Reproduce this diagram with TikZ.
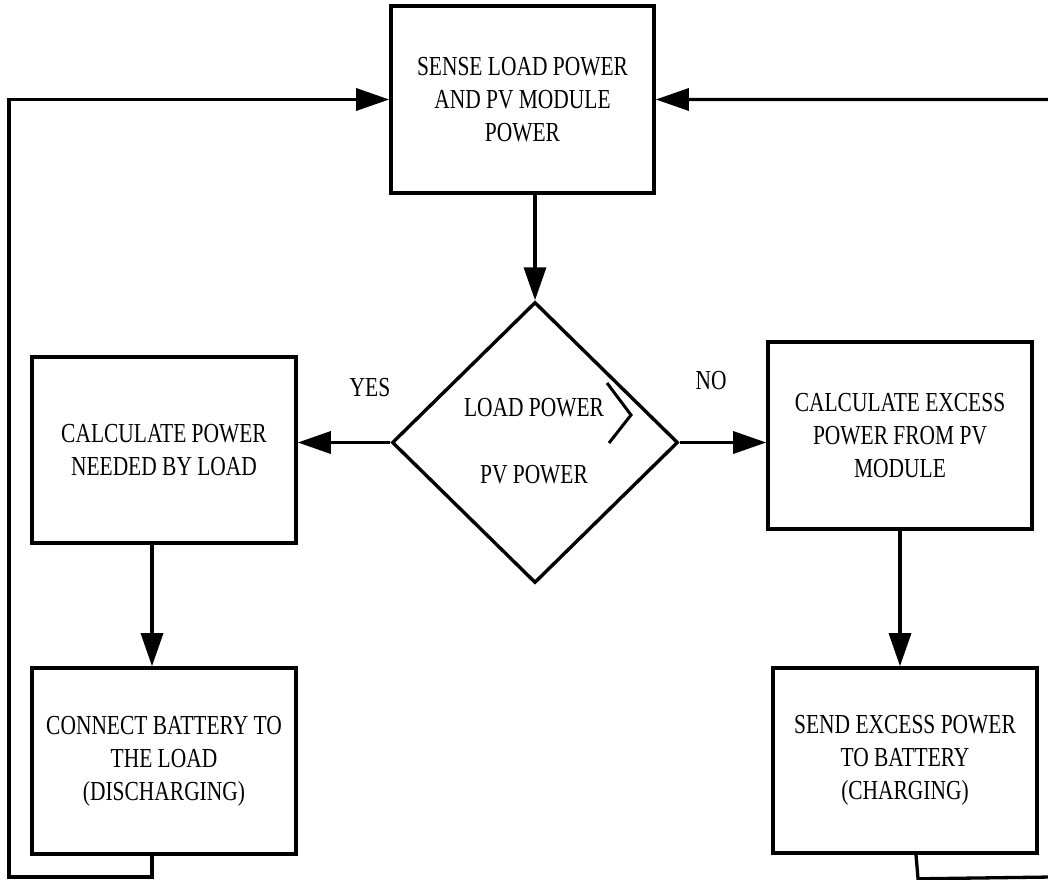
\documentclass[tikz,border=0pt]{standalone}
\usepackage{fontspec}
\setmainfont{Liberation Serif}[FakeStretch=0.78]
\usetikzlibrary{arrows.meta,shapes.geometric,calc}
\newcommand{\schrift}{\fontsize{27.5}{33}\selectfont}
\tikzset{kasten/.style={draw,line width=3.6pt,minimum width=264pt,minimum height=186pt,
    inner sep=0,align=center,font=\schrift},
  raute/.style={draw,shape=diamond,line width=3.4pt,minimum width=286pt,minimum height=281pt,inner sep=0},
  pfeil/.style={line width=3.3pt,-{Triangle[length=33pt,width=22pt]}},
  haken/.style={line width=3pt}}
\begin{document}
\begin{tikzpicture}[x=1pt,y=1pt]
\useasboundingbox (0,0) rectangle (1048,879);
\node[kasten,minimum width=263pt,minimum height=187pt] (sense) at (522.5,779.5) {SENSE LOAD POWER\\AND PV MODULE\\POWER};
\node[raute] (dia) at (535,436.5) {};
\node[font=\schrift,align=center,inner sep=0] (cmp) at (534,437.5) {LOAD POWER\\[34pt]PV POWER};
\draw[haken] ($(dia.center)+(72,59.5)$) -- ++(24,-32) -- ++(-22,-28);
\node[kasten] (calc) at (164,429) {CALCULATE POWER\\NEEDED BY LOAD};
\node[kasten,minimum height=187pt] (excess) at (900,443.5) {CALCULATE EXCESS\\POWER FROM PV\\MODULE};
\node[kasten] (conn) at (164,118) {CONNECT BATTERY TO\\THE LOAD\\(DISCHARGING)};
\node[kasten,minimum height=185pt] (send) at (905,118.5) {SEND EXCESS POWER\\TO BATTERY\\(CHARGING)};
\node[font=\schrift,inner sep=0] (ja) at (370,491) {YES};
\node[font=\schrift,inner sep=0] (nein) at (711,498) {NO};
\coordinate (lu) at (9,2);
\coordinate (ru) at (1052,2);
% Ablauf
\draw[pfeil] (sense.south -| dia.north) -- (dia.north);
\draw[pfeil] (dia.west) -- (dia.west -| calc.east);
\draw[pfeil] (dia.east) -- (dia.east -| excess.west);
\draw[pfeil] ([xshift=-12pt]calc.south) -- ([xshift=-12pt]conn.north);
\draw[pfeil] (excess.south) -- (excess.south |- send.north);
% Rueckfuehrung
\draw[pfeil] ([xshift=-12pt]conn.south) |- (lu) |- (sense.west);
\draw[pfeil] ([xshift=11pt]send.south) -- ++(2,-24) -- (ru) |- (sense.east);
\end{tikzpicture}
\end{document}
